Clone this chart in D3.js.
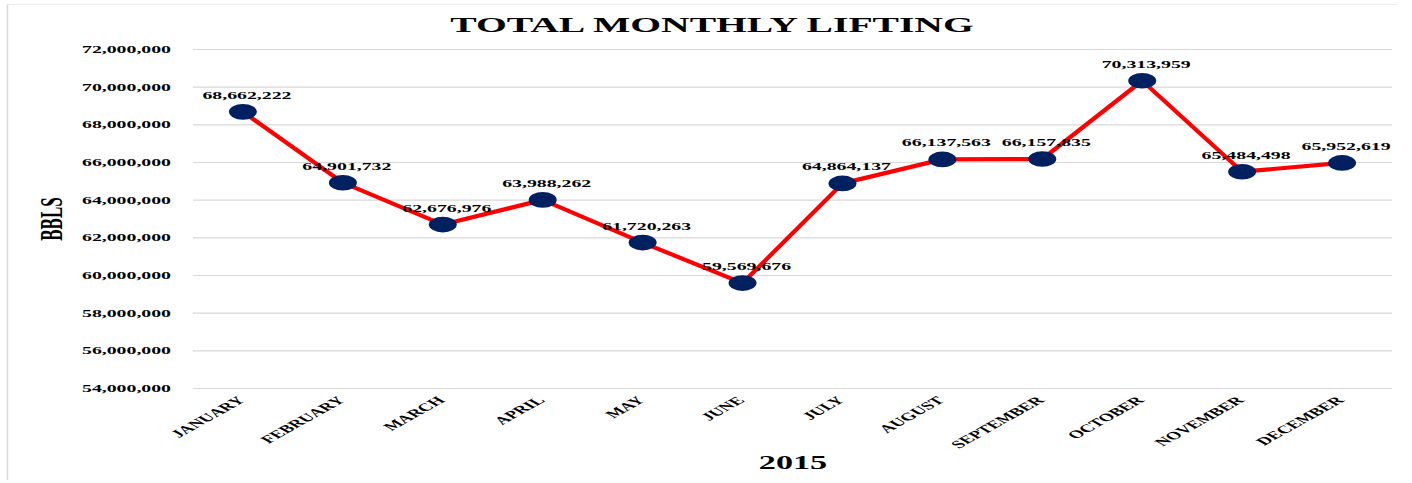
<!DOCTYPE html>
<html>
<head>
<meta charset="utf-8">
<script src="https://cdn.jsdelivr.net/npm/d3@7"></script>
<style>
  body { margin: 0; background: #fff; }
  text { font-family: "Liberation Serif", "Times New Roman", serif; font-weight: bold; fill: #000; }
</style>
</head>
<body>
<script>
var months = ['JANUARY', 'FEBRUARY', 'MARCH', 'APRIL', 'MAY', 'JUNE', 'JULY', 'AUGUST', 'SEPTEMBER', 'OCTOBER', 'NOVEMBER', 'DECEMBER'];
var lifting = [68662222, 64901732, 62676976, 63988262, 61720263, 59569676, 64864137, 66137563, 66157835, 70313959, 65484498, 65952619];
var yTicks = [54000000, 56000000, 58000000, 60000000, 62000000, 64000000, 66000000, 68000000, 70000000, 72000000];

var W = 1412, H = 483;
var sx = 1.8;                                   // picture is stretched sideways
var plotL = 193, plotR = 1392, plotT = 49, plotB = 388;

var svg = d3.select("body").append("svg")
  .attr("width", W)
  .attr("height", H);

// frame
svg.append("line").attr("x1", 7.5).attr("x2", 7.5).attr("y1", 4).attr("y2", 480)
  .attr("stroke", "#d9d9d9").attr("stroke-width", 1.5);
svg.append("line").attr("x1", 7).attr("x2", 1398).attr("y1", 4.5).attr("y2", 4.5)
  .attr("stroke", "#ececec").attr("stroke-width", 1);

var x = d3.scaleBand().domain(months).range([plotL, plotR]);
var y = d3.scaleLinear().domain([54000000, 72000000]).range([plotB, plotT]);
var fmt = d3.format(",");

// gridlines
svg.selectAll(".grid")
  .data(yTicks)
  .enter().append("line")
    .attr("class", "grid")
    .attr("x1", plotL).attr("x2", plotR)
    .attr("y1", function(d){ return y(d) + 0.5; })
    .attr("y2", function(d){ return y(d) + 0.5; })
    .attr("stroke", "#d9d9d9")
    .attr("stroke-width", 1.2);

// y tick labels
svg.selectAll(".ylab")
  .data(yTicks)
  .enter().append("text")
    .attr("class", "ylab")
    .attr("transform", function(d){ return "translate(171," + (y(d) + 4) + ") scale(" + sx + ",1)"; })
    .attr("text-anchor", "end")
    .style("font-size", "11px")
    .text(function(d){ return fmt(d); });

// x labels
svg.selectAll(".xlab")
  .data(months)
  .enter().append("text")
    .attr("class", "xlab")
    .attr("transform", function(d){ return "translate(" + (x(d) + x.bandwidth() / 2 + 3) + ",401) scale(" + sx + ",1) rotate(-45)"; })
    .attr("text-anchor", "end")
    .style("font-size", "11px")
    .text(function(d){ return d; });

// line
var line = d3.line()
  .x(function(d, i){ return x(months[i]) + x.bandwidth() / 2; })
  .y(function(d){ return y(d); });

svg.append("path")
  .datum(lifting)
  .attr("d", line)
  .attr("fill", "none")
  .attr("stroke", "#ff0000")
  .attr("stroke-width", 4.2)
  .attr("stroke-linejoin", "round");

// markers
svg.selectAll(".dot")
  .data(lifting)
  .enter().append("ellipse")
    .attr("class", "dot")
    .attr("cx", function(d, i){ return x(months[i]) + x.bandwidth() / 2; })
    .attr("cy", function(d){ return y(d); })
    .attr("rx", 14)
    .attr("ry", 7.8)
    .attr("fill", "#002060");

// data labels
svg.selectAll(".vlab")
  .data(lifting)
  .enter().append("text")
    .attr("class", "vlab")
    .attr("transform", function(d, i){ return "translate(" + (x(months[i]) + x.bandwidth() / 2 + 4) + "," + (y(d) - 13) + ") scale(" + sx + ",1)"; })
    .attr("text-anchor", "middle")
    .style("font-size", "11px")
    .text(function(d){ return fmt(d); });

// title
svg.append("text")
  .attr("transform", "translate(712,32) scale(" + sx + ",1)")
  .attr("text-anchor", "middle")
  .style("font-size", "22px")
  .text("TOTAL MONTHLY LIFTING");

// axis titles
svg.append("text")
  .attr("transform", "translate(62,219) scale(" + sx + ",1) rotate(-90)")
  .attr("text-anchor", "middle")
  .style("font-size", "17px")
  .text("BBLS");

svg.append("text")
  .attr("transform", "translate(793,469) scale(" + sx + ",1)")
  .attr("text-anchor", "middle")
  .style("font-size", "19px")
  .text("2015");
</script>
</body>
</html>
